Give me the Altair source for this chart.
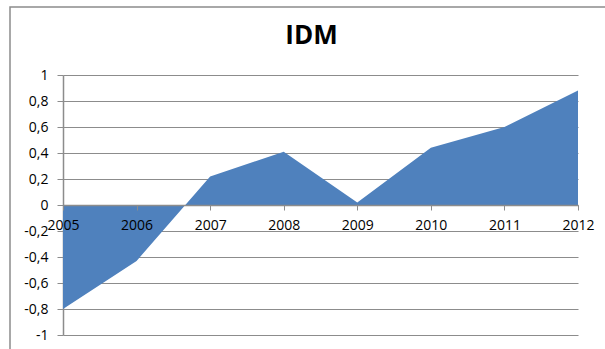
import altair as alt
import pandas as pd

# IDM index per year
years = [2005, 2006, 2007, 2008, 2009, 2010, 2011, 2012]
idm = [-0.80, -0.43, 0.22, 0.41, 0.02, 0.44, 0.60, 0.88]
y_ticks = [-1, -0.8, -0.6, -0.4, -0.2, 0, 0.2, 0.4, 0.6, 0.8, 1]

df = pd.DataFrame({"year": years, "idm": idm})

W, H = 515, 260
PAD_L, PAD_T = 63, 75
FONT = "Open Sans"
GRID = "#8C8C8C"
FRAME_TOP = 7

# grey border of the chart frame
frame = alt.Chart(pd.DataFrame({"k": [0]})).mark_rect(
    filled=False, stroke="#8C8C8C", strokeWidth=1.5
).encode(
    x=alt.value(10 - PAD_L), x2=alt.value(640 - PAD_L),
    y=alt.value(FRAME_TOP - PAD_T), y2=alt.value(380 - PAD_T),
)

y_label = "(datum.value < 0 ? '-' : '') + replace(format(abs(datum.value), '.1~f'), '.', ',')"

area = alt.Chart(df).mark_area(color="#4F81BD", opacity=1).encode(
    x=alt.X(
        "year:Q",
        scale=alt.Scale(domain=[2005, 2012], nice=False, zero=False),
        axis=alt.Axis(
            title=None, values=years, format="d", grid=False,
            offset=-(H / 2), domainColor=GRID, domainWidth=1.5,
            tickColor=GRID, tickSize=5, tickWidth=1,
            labelFont=FONT, labelFontSize=14, labelColor="black",
            labelPadding=8, labelFlush=False, zindex=1,
        ),
    ),
    y=alt.Y(
        "idm:Q",
        scale=alt.Scale(domain=[-1, 1], nice=False),
        axis=alt.Axis(
            title=None, values=y_ticks, labelExpr=y_label,
            grid=True, gridColor=GRID, gridWidth=1.2,
            domainColor=GRID, domainWidth=1.5,
            tickColor=GRID, tickSize=6, tickWidth=1,
            labelFont=FONT, labelFontSize=14, labelColor="black",
            labelPadding=9,
        ),
    ),
)

# the title is placed from the top of the frame's bounds
chart = alt.layer(frame, area).properties(
    width=W, height=H,
    title=alt.TitleParams(
        "IDM", font=FONT, fontSize=26, fontWeight="bold", color="black",
        anchor="middle", frame="group", baseline="alphabetic",
        offset=-64, dx=-9,
    ),
    autosize=alt.AutoSizeParams(type="none"),
    padding={"left": PAD_L, "top": PAD_T, "right": 605 - PAD_L - W, "bottom": 349 - PAD_T - H},
    background="white",
).configure_view(stroke=None)

chart.save("out.html", embed_options={"renderer": "svg", "actions": False})
